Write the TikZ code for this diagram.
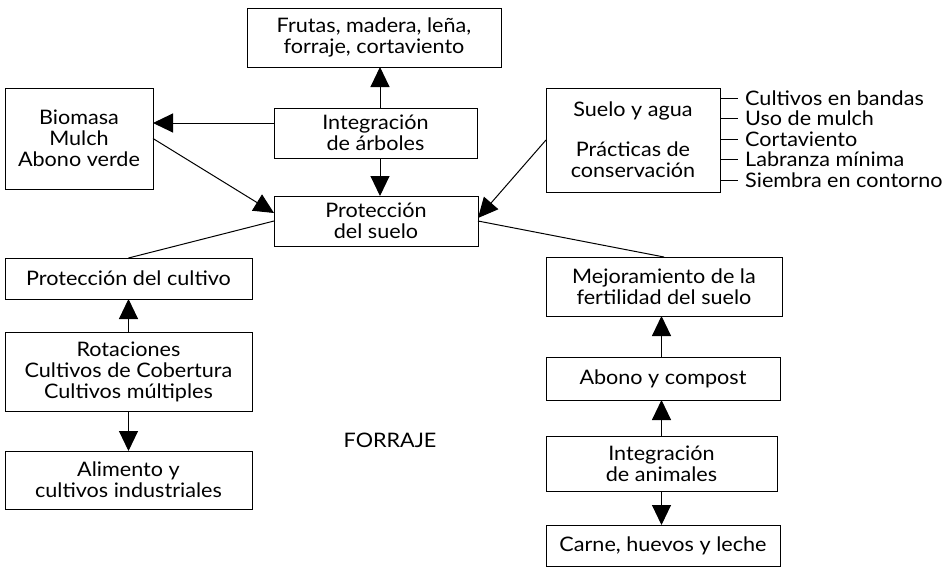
\documentclass[tikz,border=0pt]{standalone}
\usepackage{fontspec}
\setmainfont{Lato}[FakeStretch=1.08]
\usetikzlibrary{arrows.meta}
\begin{document}
\begin{tikzpicture}[x=1pt,y=-1pt,
  box/.style={draw,line width=1pt,inner sep=0pt,outer sep=0pt,align=center,
    font=\fontsize{20}{21}\selectfont},
  arr/.style={line width=1pt,-{Triangle[length=20pt,width=19pt]}},
  ln/.style={line width=1pt},
  lst/.style={anchor=west,inner sep=0pt,font=\fontsize{20}{21}\selectfont}]
\useasboundingbox (0,0) rectangle (948,568);
% top
\node[box,minimum width=254pt,minimum height=59pt] (fru) at (374,37.5) {Frutas, madera, leña,\\forraje, cortaviento};
\node[box,minimum width=203pt,minimum height=50pt] (arb) at (375.5,133) {Integración\\de árboles};
\node[box,minimum width=148pt,minimum height=101pt] (bio) at (79,138.5) {Biomasa\\Mulch\\Abono verde};
\node[box,minimum width=204pt,minimum height=50pt] (pro) at (376,221) {Protección\\del suelo};
\node[box,minimum width=174pt,minimum height=104pt] (sa) at (633,140) {Suelo y agua\\[19pt]Prácticas de\\conservación};
% list
\node[lst] (l1) at (745,98) {Cultivos en bandas};
\node[lst] (l2) at (745,118.5) {Uso de mulch};
\node[lst] (l3) at (745,139) {Cortaviento};
\node[lst] (l4) at (745,159.5) {Labranza mínima};
\node[lst] (l5) at (745,180) {Siembra en contorno};
\foreach \l in {l1,l2,l3,l4,l5}{\draw[ln] (sa.east |- \l.west) -- ([xshift=-7pt]\l.west);}
% left column
\node[box,minimum width=247pt,minimum height=41pt] (pcu) at (128.5,278.5) {Protección del cultivo};
\node[box,minimum width=247pt,minimum height=79pt] (rot) at (128.5,371.5) {Rotaciones\\Cultivos de Cobertura\\Cultivos múltiples};
\node[box,minimum width=247pt,minimum height=58pt] (ali) at (128.5,480) {Alimento y\\cultivos industriales};
% right column
\node[box,minimum width=236pt,minimum height=59pt] (mej) at (664,286.5) {Mejoramiento de la\\fertilidad del suelo};
\node[box,minimum width=234pt,minimum height=43pt] (abo) at (663,378.5) {Abono y compost};
\node[box,minimum width=231pt,minimum height=55pt] (ani) at (661.5,463.5) {Integración\\de animales};
\node[box,minimum width=234pt,minimum height=41pt] (car) at (663,545.5) {Carne, huevos y leche};
% free text
\node[font=\fontsize{20}{21}\selectfont] (forr) at (390,440) {FORRAJE};
% connectors
\draw[arr] ([xshift=4.5pt]arb.north) -- ([xshift=4.5pt]arb.north |- fru.south);
\draw[arr] ([xshift=4.5pt]arb.south) -- ([xshift=4.5pt]arb.south |- pro.north);
\draw[arr] ([yshift=10pt]arb.west) -- ([yshift=10pt]arb.west -| bio.east);
\draw[arr] (bio.east) -- ([yshift=8pt]pro.west);
\draw[arr] (sa.west) -- ([yshift=3pt]pro.east);
\draw[ln] (pro.west) -- (pcu.north);
\draw[ln] (pro.east) -- (mej.north);
\draw[arr] (rot.north) -- (pcu.south);
\draw[arr] (rot.south) -- (ali.north);
\draw[arr] (abo.north -| ani.north) -- (mej.south -| ani.north);
\draw[arr] (ani.north) -- (abo.south -| ani.north);
\draw[arr] (ani.south) -- (car.north -| ani.south);
\end{tikzpicture}
\end{document}
